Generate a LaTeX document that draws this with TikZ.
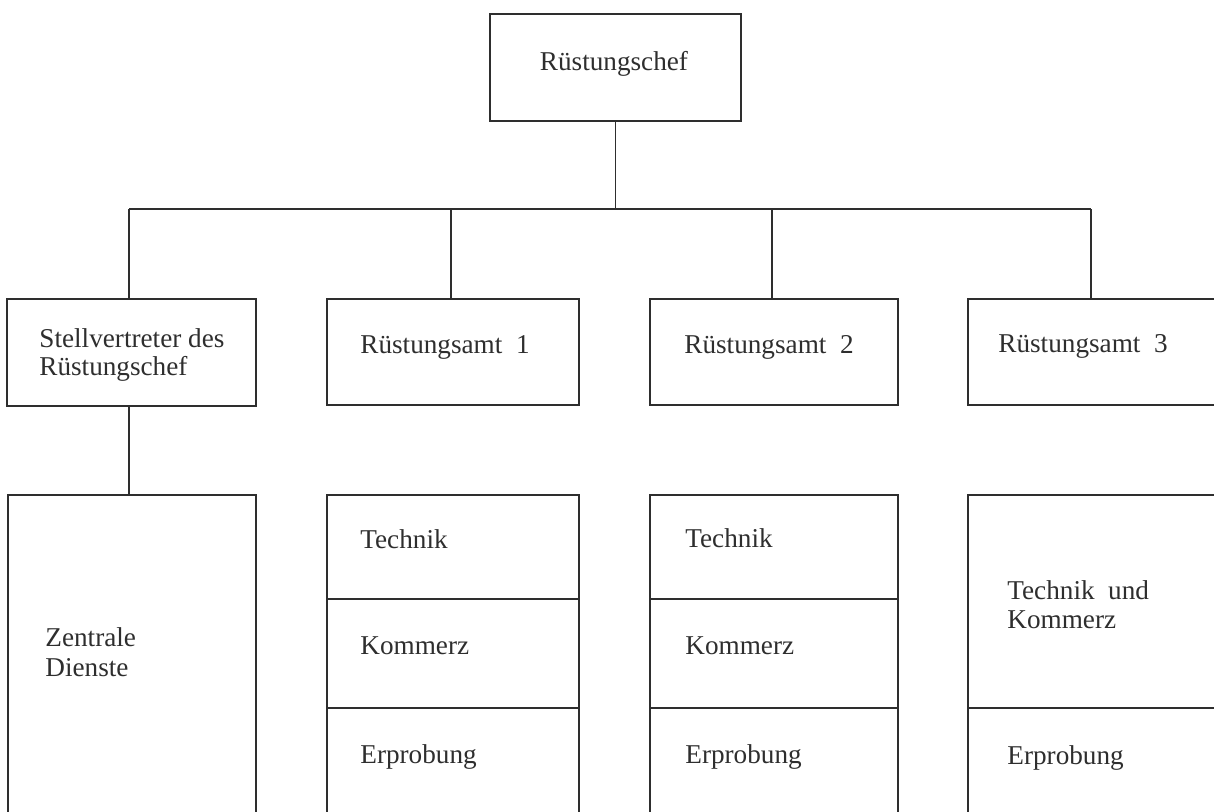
\documentclass[tikz,border=0pt]{standalone}
\usepackage{fontspec}
\setmainfont{Liberation Serif}
\usetikzlibrary{fit}
\definecolor{ink}{HTML}{2E2E2E}
\begin{document}
\begin{tikzpicture}[x=0.5pt,y=-0.5pt,
  box/.style={draw=ink, line width=0.75pt, rectangle, inner sep=0pt},
  lbl/.style={text=ink, font=\fontsize{13.6}{16}\selectfont, inner sep=0pt, anchor=base west},
  conn/.style={draw=ink, line width=0.75pt}]
\useasboundingbox (0,0) rectangle (1214,811);
\clip (0,0) rectangle (1214,811);
% boxes
\node[box, fit={(490,14) (741,121)}] (chef) {};
\node[box, fit={(7,299) (256,406)}] (stv) {};
\node[box, fit={(327,299) (579,405)}] (ra1) {};
\node[box, fit={(650,299) (898,405)}] (ra2) {};
\node[box, fit={(968,299) (1240,405)}] (ra3) {};
\node[box, fit={(8,495) (256,840)}] (zd) {};
\node[box, fit={(327,495) (579,599)}] (t1) {};
\node[box, fit={(327,599) (579,708)}] (k1) {};
\node[box, fit={(327,708) (579,840)}] (e1) {};
\node[box, fit={(650,495) (898,599)}] (t2) {};
\node[box, fit={(650,599) (898,708)}] (k2) {};
\node[box, fit={(650,708) (898,840)}] (e2) {};
\node[box, fit={(968,495) (1240,708)}] (tk3) {};
\node[box, fit={(968,708) (1240,840)}] (e3) {};
% connectors
\coordinate (busL) at (129,209);
\coordinate (j1) at (451,209);
\coordinate (j2) at (772,209);
\coordinate (busR) at (1091,209);
\draw[conn] (chef.south) -- (chef.south |- busL);
\draw[conn] (busL) -- (busR);
\draw[conn] (busL) -- (busL |- stv.north);
\draw[conn] (j1) -- (j1 |- ra1.north);
\draw[conn] (j2) -- (j2 |- ra2.north);
\draw[conn] (busR) -- (busR |- ra3.north);
\draw[conn] (stv.south -| busL) -- (zd.north -| busL);
% texts
\node[lbl, anchor=base] (tchef) at (614,70) {Rüstungschef};
\node[lbl] (tstv1) at (39,347) {Stellvertreter des};
\node[lbl] (tstv2) at (39,375) {Rüstungschef};
\node[lbl] (tra1) at (360,353) {Rüstungsamt\hspace{.5em}1};
\node[lbl] (tra2) at (684,353) {Rüstungsamt\hspace{.5em}2};
\node[lbl] (tra3) at (998,352) {Rüstungsamt\hspace{.5em}3};
\node[lbl] (tzd1) at (45,646) {Zentrale};
\node[lbl] (tzd2) at (45,676) {Dienste};
\node[lbl] (tt1) at (360,548) {Technik};
\node[lbl] (tk1) at (360,654) {Kommerz};
\node[lbl] (te1) at (360,763) {Erprobung};
\node[lbl] (tt2) at (685,547) {Technik};
\node[lbl] (tk2) at (685,654) {Kommerz};
\node[lbl] (te2) at (685,763) {Erprobung};
\node[lbl] (ttk3a) at (1007,599) {Technik\hspace{.5em}und};
\node[lbl] (ttk3b) at (1007,628) {Kommerz};
\node[lbl] (te3) at (1007,764) {Erprobung};
\end{tikzpicture}
\end{document}
